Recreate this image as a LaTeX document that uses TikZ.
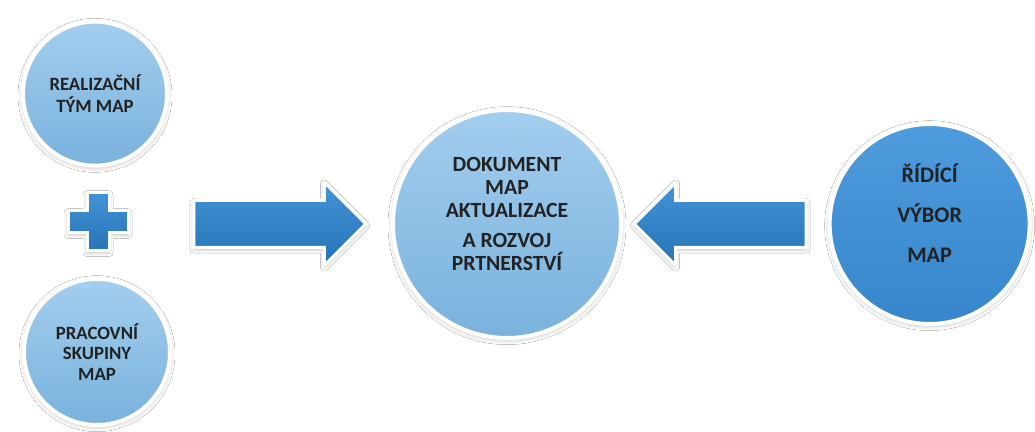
\documentclass[tikz,border=0pt]{standalone}
\usepackage{fontspec}
\setmainfont{Carlito}
\usepackage{xcolor}
\usepackage{tikz}
\usetikzlibrary{positioning,shapes.arrows,shadows,shadows.blur}
\definecolor{mapsky}{HTML}{7FBBE8}
\definecolor{mapblue}{HTML}{3B90DA}
\definecolor{maparrow}{HTML}{2A84D0}
\definecolor{maptext}{HTML}{222222}
\tikzstyle{ball}=[circle, draw=white, line width=1.2mm, inner sep=0pt, align=center, text=maptext, top color=mapsky!72!white, bottom color=mapsky!95!black, blur shadow={shadow xshift=0pt, shadow yshift=-0.5mm, shadow blur radius=1.5mm, shadow opacity=30}]
\tikzstyle{balltext}=[align=center, text=maptext, inner sep=0pt]
\tikzstyle{blokarrow}=[single arrow, draw=white, line width=0.9mm, inner xsep=0pt, inner ysep=0.66cm, minimum height=5.16cm, single arrow head extend=0.54cm, top color=maparrow!88!white, bottom color=maparrow!88!black, blur shadow={shadow xshift=0pt, shadow yshift=-0.5mm, shadow blur radius=1.2mm, shadow opacity=30}]

\begin{document}
\begin{tikzpicture}[auto, node distance=0.66cm]
	\useasboundingbox[fill=white] (0,0) rectangle (31.05,12.96);

	\node[ball, minimum size=6.84cm] (doc) at (15.21,6.24) {};
	\node[balltext, font=\bfseries\fontsize{18.5}{19.5}\selectfont] (docText) at ([yshift=0.3cm]doc.center)
		{DOKUMENT\\MAP\\AKTUALIZACE\\[6pt]A ROZVOJ\\PRTNERSTVÍ};

	\node[blokarrow] (toDoc) [left=0.69cm of doc] {};
	\node[blokarrow, shape border rotate=180] (fromBoard) [right=0.27cm of doc] {};

	\node[ball, minimum size=6cm, top color=mapblue!90!white, bottom color=mapblue!93!black] (board) [right=0.6cm of fromBoard] {};
	\node[balltext, font=\bfseries\fontsize{19}{34}\selectfont] (boardText) at ([yshift=0.33cm]board.center)
		{ŘÍDÍCÍ\\VÝBOR\\MAP};

	% left column
	\node[ball, minimum size=4.32cm, font=\bfseries\fontsize{16}{19}\selectfont] (team) at (2.85,10.15)
		{REALIZAČNÍ\\TÝM MAP};
	\node[ball, minimum size=4.38cm, font=\bfseries\fontsize{16}{17.5}\selectfont] (groups) at (2.91,2.4)
		{PRACOVNÍ\\SKUPINY\\MAP};

	\coordinate (plus) at (2.94,6.3);
	\filldraw[draw=white, line width=0.9mm, top color=maparrow!88!white, bottom color=maparrow!88!black,
		blur shadow={shadow xshift=0pt, shadow yshift=-0.5mm, shadow blur radius=1.2mm, shadow opacity=30}]
		(plus) ++(-0.33,-0.87) -- ++(0.66,0) -- ++(0,0.54) -- ++(0.57,0) -- ++(0,0.66) -- ++(-0.57,0)
		-- ++(0,0.54) -- ++(-0.66,0) -- ++(0,-0.54) -- ++(-0.57,0) -- ++(0,-0.66) -- ++(0.57,0) -- cycle;
\end{tikzpicture}
\end{document}
